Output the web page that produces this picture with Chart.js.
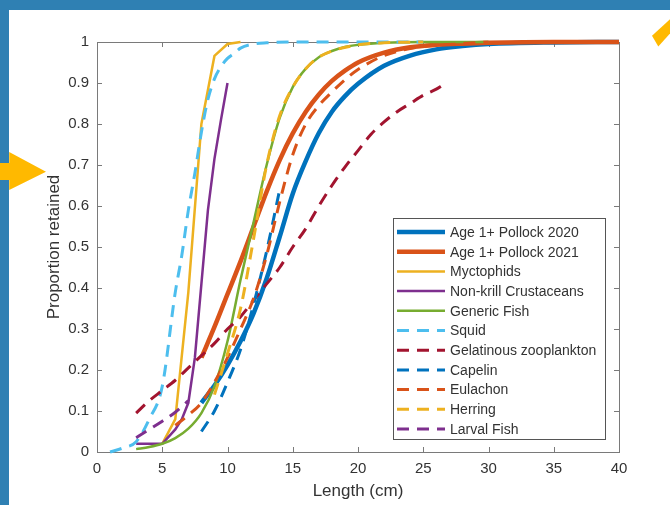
<!DOCTYPE html>
<html>
<head>
<meta charset="utf-8">
<script src="https://cdn.jsdelivr.net/npm/chart.js@4.4.1/dist/chart.umd.min.js"></script>
<style>
  html, body { margin: 0; padding: 0; }
  body { width: 670px; height: 505px; background: #2f80b3; position: relative; overflow: hidden; }
  #panel { position: absolute; left: 9px; top: 10px; width: 661px; height: 495px; background: #fff; }
  #arrowL { position: absolute; left: 0; top: 152px; width: 46px; height: 38px; background: #ffb900;
            clip-path: polygon(0 29%, 20% 29%, 20% 0, 100% 52%, 20% 100%, 20% 74%, 0 74%); }
  #arrowR { position: absolute; left: 652px; top: 16px; width: 18px; height: 32px; background: #ffb900;
            clip-path: polygon(0 62%, 100% 10%, 100% 55%, 35% 95%); }
</style>
</head>
<body>
<div id="panel"><canvas id="myChart" width="661" height="495"></canvas></div>
<div id="arrowL"></div>
<div id="arrowR"></div>
<script>
// series (length in cm, proportion retained)
var names = ["Age 1+ Pollock 2020", "Age 1+ Pollock 2021", "Myctophids", "Non-krill Crustaceans",
  "Generic Fish", "Squid", "Gelatinous zooplankton", "Capelin", "Eulachon", "Herring", "Larval Fish"];

var pollock20X = [8,9,10,11,12,13,14,15,16,17,18,19,20,22,24,26,28,30,35,40];
var pollock20Y = [0.12,0.162,0.212,0.27,0.338,0.423,0.525,0.63,0.71,0.778,0.83,0.868,0.898,0.942,0.967,0.982,0.99,0.995,0.999,1];

var pollock21X = [8,9,10,11,12,13,14,15,16,17,18,19,20,22,24,26,28,30,35,40];
var pollock21Y = [0.23,0.305,0.385,0.465,0.55,0.635,0.712,0.777,0.83,0.872,0.905,0.93,0.95,0.974,0.987,0.993,0.996,0.998,1,1];

var myctX = [5,6,7,8,9,10,11];
var myctY = [0.02,0.08,0.39,0.8,0.966,0.995,1];

var nonKrillX = [3,4,5,6,6.5,7,7.5,8,8.5,9,9.5,10];
var nonKrillY = [0.02,0.02,0.02,0.055,0.08,0.12,0.23,0.41,0.59,0.715,0.81,0.9];

var genericX = [3,4,5,6,7,8,9,10,11,12,13,14,15,16,17,18,19,20,22,25,30];
var genericY = [0.007,0.012,0.02,0.034,0.057,0.095,0.16,0.27,0.42,0.56,0.7,0.815,0.89,0.935,0.963,0.978,0.988,0.993,0.998,1,1];

var squidX = [1,2,3,4,5,6,6.5,7,7.5,8,8.5,9,9.5,10,10.5,11,12,13,15,20,25];
var squidY = [0,0.01,0.025,0.08,0.16,0.39,0.48,0.59,0.68,0.78,0.86,0.91,0.94,0.96,0.972,0.985,0.995,0.998,1,1,1];

var gelatX = [3,4,5,6,7,8,9,10,11,12,13,14,15,16,17,18,19,20,21,22,23,24,25,26,26.5];
var gelatY = [0.095,0.125,0.15,0.175,0.205,0.235,0.265,0.3,0.33,0.37,0.41,0.45,0.5,0.545,0.6,0.65,0.695,0.735,0.775,0.805,0.83,0.85,0.87,0.885,0.895];

var capelinX = [8,9,10,11,12,13,14];
var capelinY = [0.05,0.1,0.17,0.25,0.36,0.49,0.64];

var eulachonX = [6,7,8,9,10,11,12,13,14,15,16,17,18,19,20,22,24,26,28,30];
var eulachonY = [0.065,0.09,0.12,0.17,0.23,0.3,0.375,0.48,0.61,0.725,0.8,0.845,0.878,0.908,0.933,0.967,0.984,0.992,0.996,1];

var herringX = [9,10,11,12,13,14,15,16,17,18,20,22,25];
var herringY = [0.14,0.24,0.35,0.52,0.7,0.82,0.89,0.935,0.963,0.978,0.993,0.998,1];

var larvalX = [3,4,5,6,7];
var larvalY = [0.035,0.055,0.075,0.097,0.125];

var xTicks = [0,5,10,15,20,25,30,35,40];
var yTicks = [0,0.1,0.2,0.3,0.4,0.5,0.6,0.7,0.8,0.9,1];

var allX = [pollock20X, pollock21X, myctX, nonKrillX, genericX, squidX, gelatX, capelinX, eulachonX, herringX, larvalX];
var allY = [pollock20Y, pollock21Y, myctY, nonKrillY, genericY, squidY, gelatY, capelinY, eulachonY, herringY, larvalY];
var colors = ["#0072BD","#D95319","#EDB120","#7E2F8E","#77AC30","#4DBEEE","#A2142F","#0072BD","#D95319","#EDB120","#7E2F8E"];
var widths = [4.5,4.5,2.5,2.5,2.5,3,3,3,3,3,3];
var dashed = [false,false,false,false,false,true,true,true,true,true,true];
var straight = [false,false,true,true,false,false,false,false,false,false,false];

var TEXT = "#333333";
var AXIS = "#7a7a7a";
var FONT = "'Liberation Sans', Arial, Helvetica, sans-serif";

function toPoints(xs, ys){
  var pts = [];
  for(var i=0; i<xs.length; i++){
    pts.push({x: xs[i], y: ys[i]});
  }
  return pts;
}

var datasets = [];
for(var i=0; i<names.length; i++){
  datasets.push({
    label: names[i],
    data: toPoints(allX[i], allY[i]),
    borderColor: colors[i],
    backgroundColor: colors[i],
    borderWidth: widths[i],
    borderDash: dashed[i] ? [12,8] : [],
    pointRadius: 0,
    fill: false,
    cubicInterpolationMode: straight[i] ? 'default' : 'monotone',
    tension: 0,
    clip: false,
    order: 20 - i
  });
}

// box + inward ticks, matlab style
var framePlugin = {
  id: 'frame',
  beforeDatasetsDraw: function(chart){
    var c = chart.ctx, a = chart.chartArea;
    var xs = chart.scales.x, ys = chart.scales.y;
    c.save();
    c.strokeStyle = AXIS;
    c.lineWidth = 1;
    c.strokeRect(Math.round(a.left)+0.5, Math.round(a.top)+0.5, Math.round(a.right-a.left), Math.round(a.bottom-a.top));
    c.beginPath();
    xTicks.forEach(function(v){
      var px = Math.round(xs.getPixelForValue(v))+0.5;
      c.moveTo(px, a.bottom); c.lineTo(px, a.bottom-5);
      c.moveTo(px, a.top); c.lineTo(px, a.top+5);
    });
    yTicks.forEach(function(v){
      var py = Math.round(ys.getPixelForValue(v))+0.5;
      c.moveTo(a.left, py); c.lineTo(a.left+5, py);
      c.moveTo(a.right, py); c.lineTo(a.right-5, py);
    });
    c.stroke();
    c.restore();
  }
};

// legend box inside the axes, lower right
var legendPlugin = {
  id: 'boxLegend',
  afterDraw: function(chart){
    var c = chart.ctx;
    var left = 384.5, top = 208.5, w = 212, h = 221;
    c.save();
    c.fillStyle = "#fff";
    c.fillRect(left, top, w, h);
    c.strokeStyle = "#555";
    c.lineWidth = 1;
    c.strokeRect(left, top, w, h);
    c.font = "14px " + FONT;
    c.textBaseline = "middle";
    c.fillStyle = TEXT;
    chart.data.datasets.forEach(function(ds, k){
      var y = 222 + k*19.7;
      c.beginPath();
      c.strokeStyle = ds.borderColor;
      c.lineWidth = ds.borderWidth;
      c.setLineDash(ds.borderDash);
      c.moveTo(388, y); c.lineTo(436, y);
      c.stroke();
      c.setLineDash([]);
      c.fillText(ds.label, 441, y+1);
    });
    c.restore();
  }
};

const ctx = document.getElementById('myChart');

const myChart = new Chart(ctx, {
  type: 'line',
  data: { datasets: datasets },
  options: {
    responsive: false,
    animation: false,
    layout: { padding: { left: 0, top: 32, right: 51, bottom: 0 } },
    plugins: {
      legend: { display: false },
      tooltip: { enabled: false }
    },
    scales: {
      x: {
        type: 'linear',
        min: 0, max: 40,
        afterBuildTicks: function(s){ s.ticks = xTicks.map(function(v){ return {value: v}; }); },
        afterFit: function(s){ s.height = 53; },
        grid: { display: false, drawTicks: false },
        border: { display: false },
        ticks: { color: TEXT, font: { family: FONT, size: 15 }, padding: 8, maxRotation: 0 },
        title: { display: true, text: 'Length (cm)', color: TEXT, font: { family: FONT, size: 17 }, padding: { top: 0, bottom: 3 } }
      },
      y: {
        type: 'linear',
        min: 0, max: 1,
        afterBuildTicks: function(s){ s.ticks = yTicks.map(function(v){ return {value: v}; }); },
        afterFit: function(s){ s.width = 88; },
        grid: { display: false, drawTicks: false },
        border: { display: false },
        ticks: { color: TEXT, font: { family: FONT, size: 15 }, padding: 8,
                 callback: function(v){ return String(Math.round(v*10)/10); } },
        title: { display: true, text: 'Proportion retained', color: TEXT, font: { family: FONT, size: 17 }, padding: { top: 35, bottom: 0 } }
      }
    }
  },
  plugins: [framePlugin, legendPlugin]
});
</script>
</body>
</html>
